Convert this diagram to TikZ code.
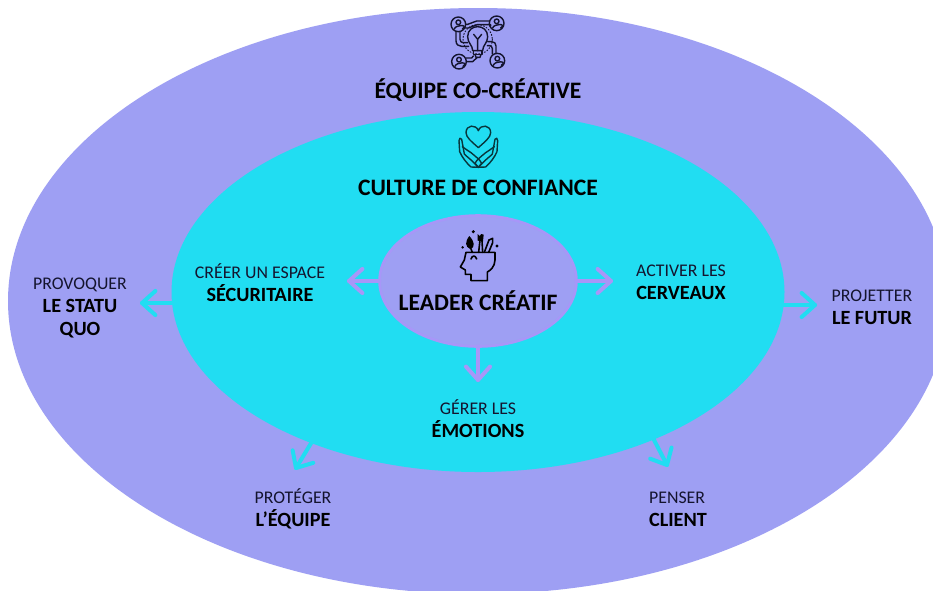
\documentclass[tikz,border=0pt]{standalone}
\usepackage{fontspec}
\setmainfont{Carlito}
\usetikzlibrary{shapes.geometric,calc}
\definecolor{outerc}{HTML}{9E9FF3}
\definecolor{midc}{HTML}{21DDF2}
\definecolor{innerb}{HTML}{A896F8}
\definecolor{ink}{HTML}{14142E}
\tikzset{
  zone/.style={ellipse,inner sep=0pt,outer sep=0pt},
  title/.style={font=\fontsize{#1}{24}\selectfont\bfseries,text=black,inner sep=0pt},
  lab/.style={font=\fontsize{17.8}{23}\selectfont,text=ink,align=#1,inner sep=0pt},
  lab/.default=center,
  flow/.style={line width=4pt,line cap=round,line join=round},
  flowin/.style={flow,draw=innerb},
  flowout/.style={flow,draw=midc},
  ico/.style={draw=ink,line width=1.4pt,line cap=round,line join=round},
  icoblack/.style={draw=black,line width=1.6pt,line cap=round,line join=round},
}
\newcommand{\bd}[1]{{\bfseries\fontsize{20.2}{23}\selectfont\textcolor{black}{#1}}}
% open arrow: shaft from #2 to #3 and two barbs at #3
\newcommand{\openarrow}[3]{%
  \draw[#1] (#2) -- (#3);
  \draw[#1] ($(#3)!18pt!42:(#2)$) -- (#3) -- ($(#3)!18pt!-42:(#2)$);
}
\begin{document}
\begin{tikzpicture}[x=1pt,y=-1pt]
\useasboundingbox (0,0) rectangle (933,590);
\fill[white] (0,0) rectangle (933,590);
\begin{scope}
\clip (0,0) rectangle (933,590);
\node[zone,fill=outerc,minimum width=940pt,minimum height=586pt] (outer) at (478,301) {};
\end{scope}
\node[zone,fill=midc,minimum width=613pt,minimum height=360pt] (mid) at (478,292) {};
\node[zone,fill=outerc,draw=innerb,line width=2.6pt,minimum width=197pt,minimum height=131pt] (inner) at (478,281) {};

% titles
\node[title=23.6] (t1) at (478,90) {ÉQUIPE CO-CRÉATIVE};
\node[title=23.6] (t2) at (478,188) {CULTURE DE CONFIANCE};
\node[title=23.6] (t3) at (478,301) {LEADER CRÉATIF};

% labels
\node[lab] (secu) at (260,282.5) {CRÉER UN ESPACE\\\bd{SÉCURITAIRE}};
\node[lab] (cerv) at (681,282.5) {ACTIVER LES\\\bd{CERVEAUX}};
\node[lab] (emo) at (478,418.5) {GÉRER LES\\\bd{ÉMOTIONS}};
\node[lab] (stat) at (80,307.5) {PROVOQUER\\\bd{LE STATU}\\\bd{QUO}};
\node[lab] (fut) at (872,307.5) {PROJETTER\\\bd{LE FUTUR}};
\node[lab] (equ) at (293,508.5) {PROTÉGER\\\bd{L’ÉQUIPE}};
\node[lab=left] (cli) at (678,509) {PENSER\\\bd{CLIENT}};

% connector ends
\coordinate (a1) at (349,281);
\coordinate (a2) at (611,281);
\coordinate (a3) at (478,380);
\coordinate (a4s) at (173,303);
\coordinate (a4) at (142,303);
\coordinate (a5s) at (783,305);
\coordinate (a5) at (815,305);
\coordinate (a6s) at (313,440);
\coordinate (a6) at (296,468);
\coordinate (a7s) at (653,438);
\coordinate (a7) at (667,465);

\openarrow{flowin}{inner.west}{a1}
\openarrow{flowin}{inner.east}{a2}
\openarrow{flowin}{inner.south}{a3}
\openarrow{flowout}{a4s}{a4}
\openarrow{flowout}{a5s}{a5}
\openarrow{flowout}{a6s}{a6}
\openarrow{flowout}{a7s}{a7}

% team / bulb icon (coordinates from a 3x view with origin 400,0)
\begin{scope}[shift={(400,0)},x=0.3333pt,y=-0.3333pt,ico]
  \foreach \p in {(175,73),(290,70),(177,185),(292,182)}{
    \draw \p circle (22);
    \draw \p ++(0,-6) circle (7);
    \draw \p ++(-12,14) .. controls +(4,-14) and +(20,-14) .. ++(24,0);
  }
  % bulb
  \draw (218,152) .. controls (218,135) and (203,130) .. (203,110)
     .. controls (203,70) and (263,70) .. (263,110)
     .. controls (263,130) and (248,135) .. (248,152) -- cycle;
  \draw (220,152) -- (220,163) -- (246,163) -- (246,152);
  \draw (225,163) -- (228,172) -- (240,172) -- (243,163);
  \draw (233,152) -- (233,118) -- (221,103) (233,118) -- (245,103);
  \draw[dotted,line width=1pt] (233,118) circle (44);
  % circuit traces
  \draw (197,73) -- (203,73) .. controls (215,73) and (218,63) .. (230,63) -- (268,63);
  \draw (197,84) -- (205,84) .. controls (217,84) and (220,74) .. (232,74) -- (272,74) -- (272,78);
  \draw (180,96) -- (180,118) .. controls (180,125) and (185,128) .. (190,128) -- (203,128);
  \draw (168,94) -- (168,122) .. controls (168,134) and (176,139) .. (185,139) -- (206,139);
  \draw (199,185) -- (218,185) -- (232,172);
  \draw (199,174) -- (215,174) -- (220,168);
  \draw (263,125) -- (275,125) .. controls (283,125) and (288,130) .. (288,138) -- (288,160);
  \draw (262,137) -- (268,137) .. controls (273,137) and (277,140) .. (277,146) -- (277,162);
\end{scope}

% heart and hands icon
\begin{scope}[shift={(400,0)},x=0.3333pt,y=-0.3333pt,ico,draw=black!75!midc]
  \draw (235,443) .. controls (215,425) and (198,412) .. (198,398)
     .. controls (198,374) and (228,372) .. (235,392)
     .. controls (242,372) and (272,374) .. (272,398)
     .. controls (272,412) and (255,425) .. (235,443) -- cycle;
  \foreach \s in {1,-1}{
    \begin{scope}[shift={(235,0)},xscale=\s]
      \draw (0,502) -- (-12,490) .. controls (-20,480) and (-35,470) .. (-42,462)
            -- (-50,418) .. controls (-53,412) and (-58,414) .. (-58,422)
            -- (-56,455) .. controls (-50,470) and (-35,490) .. (-22,501) -- (0,502);
      \draw (0,502) -- (10,490) .. controls (4,478) and (-8,470) .. (-22,458);
      \draw (-48,440) .. controls (-40,447) and (-30,452) .. (-22,458);
    \end{scope}
  }
\end{scope}

% head icon
\begin{scope}[shift={(340,210)},x=0.3333pt,y=-0.3333pt,icoblack]
  \draw (378,127) -- (465,127) -- (465,150) .. controls (465,170) and (450,182) .. (442,186)
     -- (442,212) -- (393,212) -- (393,193) -- (376,193) -- (376,180) -- (361,171)
     -- (373,150) -- (378,127);
  \draw (393,147) .. controls (397,135) and (406,135) .. (410,147);
  % brush, paint brush, pencil
  \fill[black] (388,78) .. controls (375,95) and (374,110) .. (392,118)
     .. controls (406,110) and (404,95) .. (388,78) -- cycle;
  \draw (393,117) -- (397,127);
  \draw (416,127) -- (420,90);
  \fill[black] (413,92) -- (413,72) -- (419,78) -- (424,72) -- (431,74) -- (429,94) -- cycle;
  \draw (428,127) -- (426,92);
  \draw (433,127) -- (447,90) -- (458,85) -- (458,98) -- (446,127);
  \fill[black] (400,65) circle (5);
  \fill[black] (368,112) circle (4);
  \fill[black] (471,108) circle (5);
\end{scope}
\end{tikzpicture}
\end{document}
